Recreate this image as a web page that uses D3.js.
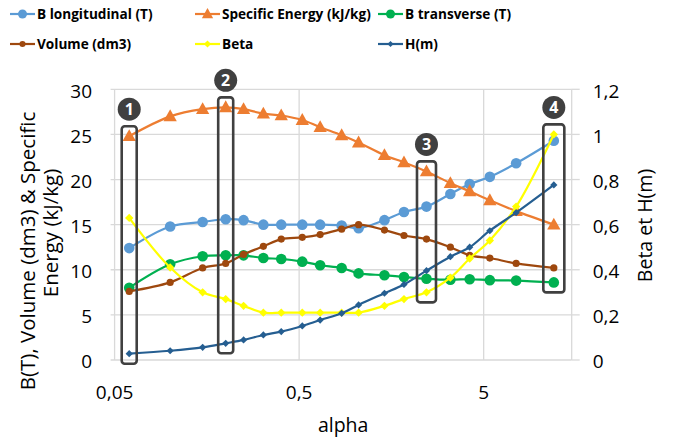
<!DOCTYPE html>
<html>
<head>
<meta charset="utf-8">
<script src="https://cdn.jsdelivr.net/npm/d3@7/dist/d3.min.js"></script>
<style>
  body { margin: 0; background: #fff; }
  text { font-family: "Open Sans", "Noto Sans", sans-serif; fill: #000; }
</style>
</head>
<body>
<div id="chart"></div>
<script>
// values
var alpha = [0.06, 0.1, 0.15, 0.2, 0.25, 0.32, 0.4, 0.52, 0.65, 0.85, 1.05, 1.45, 1.85, 2.45, 3.3, 4.2, 5.4, 7.5, 12];
var bLong = [12.4, 14.8, 15.3, 15.6, 15.5, 15.0, 15.0, 15.0, 15.0, 14.9, 14.6, 15.5, 16.4, 17.0, 18.4, 19.5, 20.3, 21.8, 24.3];
var specEnergy = [24.8, 27.0, 27.8, 28.0, 27.8, 27.3, 27.1, 26.6, 25.8, 24.9, 24.1, 22.7, 21.9, 20.9, 19.6, 18.7, 17.7, 16.5, 15.0];
var bTrans = [8.0, 10.6, 11.5, 11.6, 11.6, 11.3, 11.2, 10.9, 10.5, 10.2, 9.6, 9.4, 9.2, 9.0, 8.9, 8.95, 8.85, 8.8, 8.6];
var volume = [7.6, 8.6, 10.2, 10.7, 11.7, 12.6, 13.4, 13.6, 13.9, 14.5, 15.0, 14.4, 13.8, 13.4, 12.5, 11.6, 11.3, 10.7, 10.2];
var beta = [0.63, 0.41, 0.30, 0.27, 0.24, 0.21, 0.21, 0.21, 0.21, 0.21, 0.21, 0.24, 0.27, 0.30, 0.365, 0.45, 0.53, 0.68, 1.0];
var hm = [0.028, 0.041, 0.056, 0.074, 0.089, 0.111, 0.126, 0.151, 0.177, 0.207, 0.244, 0.296, 0.335, 0.396, 0.458, 0.5, 0.573, 0.653, 0.776];

var xTicks = [0.05, 0.5, 5];
var leftTicks = [0, 5, 10, 15, 20, 25, 30];
var rightTicks = [0, 0.2, 0.4, 0.6, 0.8, 1, 1.2];

// numbered boxes: index of the alpha value they frame
var annIndex = [0, 3, 13, 18];
var annLabel = ["1", "2", "3", "4"];

var W = 692, H = 439;
var margin = {top: 89.3, right: 120.3, bottom: 79, left: 114.6},
    width = W - margin.left - margin.right,
    height = H - margin.top - margin.bottom;

var fr = d3.formatLocale({decimal: ",", thousands: " ", grouping: [3], currency: ["", ""]});
var fmt = fr.format("~g");

var x = d3.scaleLog().domain([0.05, 15]).range([0, width]);
var yL = d3.scaleLinear().domain([0, 30]).range([height, 0]);
var yR = d3.scaleLinear().domain([0, 1.2]).range([height, 0]);

var series = [
  {name: "B longitudinal (T)", values: bLong, y: yL, color: "#5B9BD5", shape: "circle", size: 5.3},
  {name: "Specific Energy (kJ/kg)", values: specEnergy, y: yL, color: "#ED7D31", shape: "triangle", size: 7},
  {name: "B transverse (T)", values: bTrans, y: yL, color: "#00B050", shape: "circle", size: 5.3},
  {name: "Volume (dm3)", values: volume, y: yL, color: "#9E480E", shape: "circle", size: 3.6},
  {name: "Beta", values: beta, y: yR, color: "#FFFF00", shape: "diamond", size: 4.2},
  {name: "H(m)", values: hm, y: yR, color: "#255E91", shape: "diamond", size: 3.6}
];

function markerPath(shape, s) {
  if (shape === "triangle") return "M0," + (-s) + "L" + (s * 0.95) + "," + (s * 0.7) + "L" + (-s * 0.95) + "," + (s * 0.7) + "Z";
  if (shape === "diamond") return "M0," + (-s) + "L" + s + ",0L0," + s + "L" + (-s) + ",0Z";
  return null;
}

function drawMarker(g, shape, s, color) {
  if (shape === "circle") {
    g.append("circle").attr("r", s).attr("fill", color);
  } else {
    g.append("path").attr("d", markerPath(shape, s)).attr("fill", color);
  }
}

var svg = d3.select("#chart").append("svg")
    .attr("width", W)
    .attr("height", H);

var plot = svg.append("g")
    .attr("transform", "translate(" + margin.left + "," + margin.top + ")");

// horizontal gridlines
plot.append("g").selectAll("line")
    .data(leftTicks)
  .enter().append("line")
    .attr("x1", -4).attr("x2", width)
    .attr("y1", function(d) { return yL(d); })
    .attr("y2", function(d) { return yL(d); })
    .attr("stroke", "#d9d9d9").attr("stroke-width", 1.3);

// vertical gridlines (log decades) + frame
plot.append("g").selectAll("line")
    .data(xTicks.concat([15]))
  .enter().append("line")
    .attr("x1", function(d) { return x(d); })
    .attr("x2", function(d) { return x(d); })
    .attr("y1", 0).attr("y2", height)
    .attr("stroke", "#d9d9d9").attr("stroke-width", 1.3);

// right axis outer ticks
plot.append("g").selectAll("line")
    .data(rightTicks)
  .enter().append("line")
    .attr("x1", width).attr("x2", width + 8)
    .attr("y1", function(d) { return yR(d); })
    .attr("y2", function(d) { return yR(d); })
    .attr("stroke", "#d9d9d9").attr("stroke-width", 1.3);

// tick labels
plot.append("g").selectAll("text")
    .data(leftTicks)
  .enter().append("text")
    .attr("x", -22.5)
    .attr("y", function(d) { return yL(d) + 1.5; })
    .attr("dy", "0.36em")
    .attr("text-anchor", "end")
    .style("font-size", "19px")
    .text(function(d) { return fmt(d); });

plot.append("g").selectAll("text")
    .data(rightTicks)
  .enter().append("text")
    .attr("x", width + 21)
    .attr("y", function(d) { return yR(d) + 1.5; })
    .attr("dy", "0.36em")
    .style("font-size", "19px")
    .text(function(d) { return fmt(d); });

plot.append("g").selectAll("text")
    .data(xTicks)
  .enter().append("text")
    .attr("x", function(d) { return x(d); })
    .attr("y", height + 32)
    .attr("dy", "0.36em")
    .attr("text-anchor", "middle")
    .style("font-size", "19px")
    .text(function(d) { return fmt(d); });

// axis titles
svg.append("text")
    .attr("x", margin.left + width / 2)
    .attr("y", 425)
    .attr("dy", "0.36em")
    .attr("text-anchor", "middle")
    .style("font-size", "19.5px")
    .text("alpha");

svg.append("text")
    .attr("transform", "translate(645,225.5) rotate(-90)")
    .attr("dy", "0.36em")
    .attr("text-anchor", "middle")
    .style("font-size", "19.5px")
    .text("Beta et H(m)");

svg.append("text")
    .attr("transform", "translate(28,251) rotate(-90)")
    .attr("dy", "0.36em")
    .attr("text-anchor", "middle")
    .style("font-size", "20.5px")
    .text("B(T), Volume (dm3) & Specific");

svg.append("text")
    .attr("transform", "translate(51,233) rotate(-90)")
    .attr("dy", "0.36em")
    .attr("text-anchor", "middle")
    .style("font-size", "20.5px")
    .text("Energy (kJ/kg)");

// series lines and markers
series.forEach(function(s) {
  var pts = alpha.map(function(a, i) { return [x(a), s.y(s.values[i])]; });
  var line = d3.line().curve(d3.curveCatmullRom.alpha(0.5));
  plot.append("path")
      .attr("d", line(pts))
      .attr("fill", "none")
      .attr("stroke", s.color)
      .attr("stroke-width", 2.2);
  var mg = plot.append("g");
  pts.forEach(function(p) {
    var g = mg.append("g").attr("transform", "translate(" + p[0] + "," + p[1] + ")");
    drawMarker(g, s.shape, s.size, s.color);
  });
});

// numbered boxes
var boxHalf = [7.5, 7.5, 9.5, 10.5];
annIndex.forEach(function(idx, k) {
  var ys = series.map(function(s) { return s.y(s.values[idx]); });
  var top = d3.min(ys) - 10, bottom = d3.max(ys) + 10;
  var cx = x(alpha[idx]);
  plot.append("rect")
      .attr("x", cx - boxHalf[k]).attr("y", top)
      .attr("width", boxHalf[k] * 2).attr("height", bottom - top)
      .attr("rx", 3)
      .attr("fill", "none")
      .attr("stroke", "#404040")
      .attr("stroke-width", 2.6);
  plot.append("circle")
      .attr("cx", cx).attr("cy", top - 17)
      .attr("r", 11.5)
      .attr("fill", "#404040");
  plot.append("text")
      .attr("x", cx).attr("y", top - 17)
      .attr("dy", "0.36em")
      .attr("text-anchor", "middle")
      .style("font-size", "16px")
      .style("font-weight", "bold")
      .style("fill", "#fff")
      .text(annLabel[k]);
});

// legend, 3 columns x 2 rows
var legendCols = [10, 195, 378], legendRows = [14, 44];
var legend = svg.append("g");
series.forEach(function(s, i) {
  var lx = legendCols[i % 3], ly = legendRows[Math.floor(i / 3)];
  var g = legend.append("g").attr("transform", "translate(" + lx + "," + ly + ")");
  g.append("line")
      .attr("x1", 0).attr("x2", 25)
      .attr("stroke", s.color).attr("stroke-width", 2.2);
  var m = g.append("g").attr("transform", "translate(12.5,0)");
  drawMarker(m, s.shape, s.size * 0.85, s.color);
  g.append("text")
      .attr("x", 27)
      .attr("dy", "0.36em")
      .style("font-size", "13.6px")
      .style("font-weight", "bold")
      .text(s.name);
});
</script>
</body>
</html>
